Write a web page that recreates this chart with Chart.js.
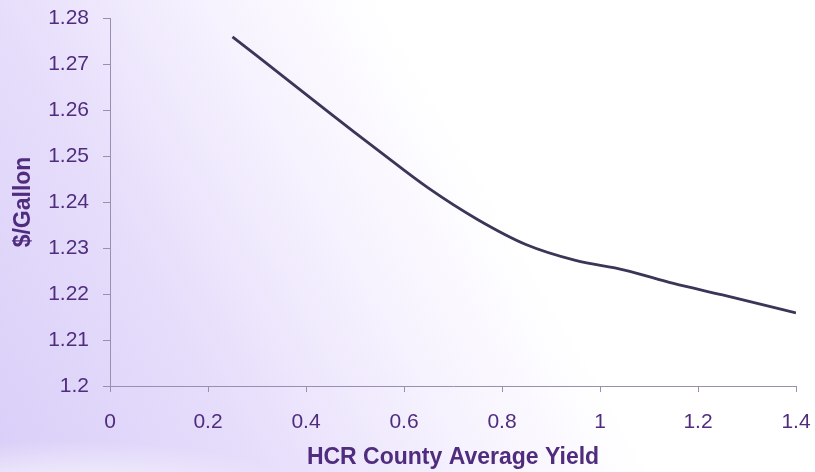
<!DOCTYPE html>
<html>
<head>
<meta charset="utf-8">
<script src="https://cdn.jsdelivr.net/npm/chart.js@4"></script>
<style>
  html, body { margin: 0; padding: 0; }
  body {
    width: 815px; height: 472px; overflow: hidden;
    background:
      radial-gradient(ellipse 260px 60px at 60px 500px, rgba(255,255,255,0.9), rgba(255,255,255,0) 100%),
      linear-gradient(60deg, #d9cef8 0%, #e6ddfb 24%, #f6f2fe 44%, #ffffff 60%, #ffffff 100%);
  }
  #wrap { position: relative; width: 815px; height: 472px; }
</style>
</head>
<body>
<div id="wrap"><canvas id="yieldChart"></canvas></div>
<script>
// Preço por galão em função do rendimento médio do condado (HCR)
const yieldValues = [0.25, 0.35, 0.45, 0.55, 0.65, 0.75, 0.85, 0.95, 1.05, 1.15, 1.25, 1.35, 1.4];
const pricePerGallon = [1.2759, 1.2676, 1.2592, 1.2510, 1.2430, 1.2362, 1.2307, 1.2273, 1.2252, 1.2223, 1.2198, 1.2172, 1.2159];
const xTicks = [0, 0.2, 0.4, 0.6, 0.8, 1, 1.2, 1.4];
const yTicks = [1.2, 1.21, 1.22, 1.23, 1.24, 1.25, 1.26, 1.27, 1.28];

const roxo = '#502c7e';
const eixo = '#9a8fb0';
const fonte = 'Liberation Sans, Arial, sans-serif';

const pontos = yieldValues.map((x, i) => ({ x: x, y: pricePerGallon[i] }));

new Chart(document.getElementById('yieldChart'), {
    type: 'line',
    data: {
        datasets: [{
            data: pontos,
            borderColor: '#3b3657',
            borderWidth: 2.8,
            pointRadius: 0,
            tension: 0.35,
            fill: false
        }]
    },
    options: {
        responsive: true,
        maintainAspectRatio: false,
        animation: false,
        layout: { padding: { top: 18, right: 19, bottom: 0, left: 0 } },
        plugins: {
            legend: { display: false },
            tooltip: { enabled: false }
        },
        scales: {
            x: {
                type: 'linear',
                min: 0,
                max: 1.4,
                afterBuildTicks: axis => { axis.ticks = xTicks.map(v => ({ value: v })); },
                afterFit: axis => {
                    axis.height = 86;
                    // sem folga extra para os rótulos nas pontas
                    axis.paddingLeft = 0;
                    axis.paddingRight = 0;
                },
                grid: { drawOnChartArea: false, color: eixo, tickLength: 6, tickColor: eixo },
                border: { color: eixo, width: 1 },
                ticks: {
                    color: roxo,
                    font: { family: fonte, size: 21 },
                    padding: 18,
                    maxRotation: 0,
                    callback: v => String(+v.toFixed(1))
                },
                title: {
                    display: true,
                    text: 'HCR County Average Yield',
                    color: roxo,
                    font: { family: fonte, size: 23, weight: 'bold' },
                    padding: { top: 0, bottom: 1 }
                }
            },
            y: {
                min: 1.2,
                max: 1.28,
                afterBuildTicks: axis => { axis.ticks = yTicks.map(v => ({ value: v })); },
                afterFit: axis => {
                    axis.width = 110;
                    axis.paddingTop = 0;
                    axis.paddingBottom = 0;
                },
                grid: { drawOnChartArea: false, color: eixo, tickLength: 7, tickColor: eixo },
                border: { color: eixo, width: 1 },
                ticks: {
                    color: roxo,
                    font: { family: fonte, size: 21 },
                    padding: 14,
                    callback: v => String(+v.toFixed(2))
                },
                title: {
                    display: true,
                    text: '$/Gallon',
                    color: roxo,
                    font: { family: fonte, size: 23, weight: 'bold' },
                    padding: { top: 10, bottom: 0 }
                }
            }
        }
    }
});
</script>
</body>
</html>
